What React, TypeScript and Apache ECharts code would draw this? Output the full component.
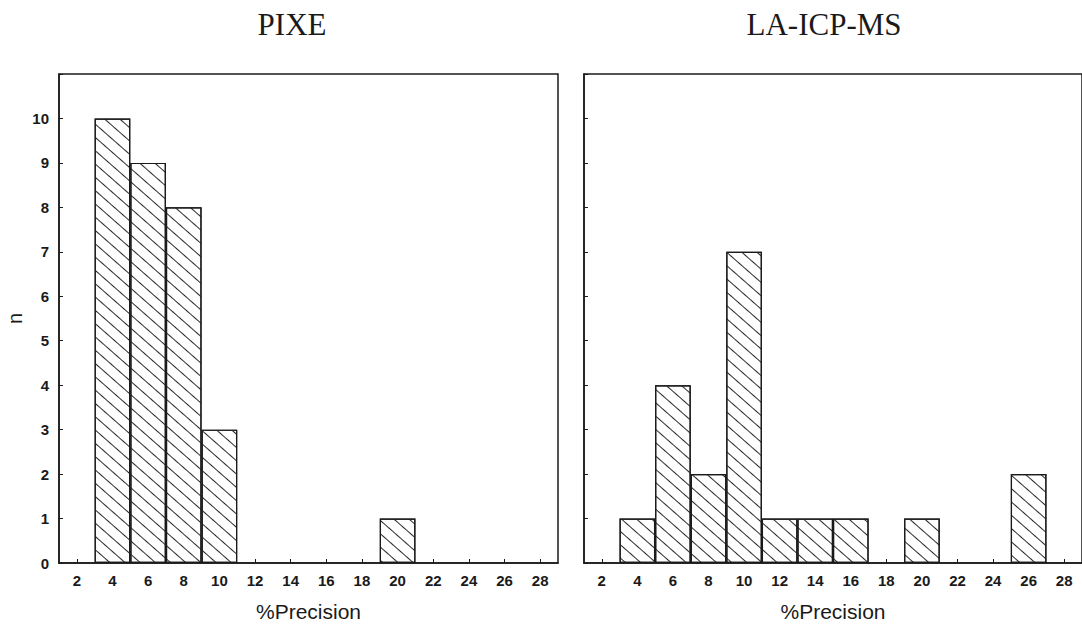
import React, { useEffect, useRef } from "react";
import * as echarts from "echarts";

// ---- data ----
const xTicks = [2, 4, 6, 8, 10, 12, 14, 16, 18, 20, 22, 24, 26, 28];
const pixeBins = [4, 6, 8, 10, 20];
const pixeCounts = [10, 9, 8, 3, 1];
const icpBins = [4, 6, 8, 10, 12, 14, 16, 20, 26];
const icpCounts = [1, 4, 2, 7, 1, 1, 1, 1, 2];
const panelTitles = ["PIXE", "LA-ICP-MS"];
const xName = "%Precision";
const yName = "n";

const X_MIN = 1;
const X_MAX = 29;
const Y_MAX = 11;
const BIN_WIDTH = 2;

const GRID_W = 499;
const GRID_H = 489;
const GRID_TOP = 74;
const GRID_LEFTS = [59, 584];

export default function App() {
  const ref = useRef<HTMLDivElement>(null);
  useEffect(() => {
    if (!ref.current) return;
    const chart = echarts.init(ref.current, null, { renderer: "svg" });
    const barW = (GRID_W / (X_MAX - X_MIN)) * BIN_WIDTH;
    const decal = {
      symbol: "rect",
      symbolSize: 1,
      dashArrayX: [1, 0],
      dashArrayY: [0.9, 8.6],
      rotation: 0.72,
      color: "#2a2a2a",
    };
    const axisFont = "Liberation Sans";
    const ink = "#1a1a1a";
    const mkX = (i: number) => ({
      type: "value",
      gridIndex: i,
      min: X_MIN,
      max: X_MAX,
      name: xName,
      nameLocation: "middle",
      nameGap: 38,
      nameTextStyle: { fontFamily: axisFont, fontSize: 21, color: ink },
      axisLine: { show: true, lineStyle: { color: ink, width: 1.5 } },
      axisTick: { show: true, inside: true, length: 4, customValues: xTicks, lineStyle: { color: ink } },
      axisLabel: { customValues: xTicks, margin: 10, fontFamily: axisFont, fontSize: 15, fontWeight: "bold", color: ink },
      splitLine: { show: false },
    });
    const mkY = (i: number) => ({
      type: "value",
      gridIndex: i,
      min: 0,
      max: Y_MAX,
      interval: 1,
      name: i === 0 ? yName : "",
      nameLocation: "middle",
      nameGap: 34,
      nameTextStyle: { fontFamily: axisFont, fontSize: 20, color: ink },
      axisLine: { show: true, lineStyle: { color: ink, width: 1.5 } },
      axisTick: { show: true, inside: true, length: 4, lineStyle: { color: ink } },
      axisLabel: {
        show: i === 0,
        margin: 10,
        fontFamily: axisFont,
        fontSize: 15,
        fontWeight: "bold",
        color: ink,
        formatter: (v: number) => (v >= Y_MAX ? "" : String(v)),
      },
      splitLine: { show: false },
    });
    const mkSeries = (i: number, bins: number[], counts: number[]) => ({
      type: "bar",
      xAxisIndex: i,
      yAxisIndex: i,
      barWidth: barW,
      data: bins.map((b, k) => [b, counts[k]]),
      itemStyle: { color: "#ffffff", borderColor: ink, borderWidth: 1.2, decal },
      emphasis: { disabled: true },
    });
    chart.setOption({
      animation: false,
      backgroundColor: "#ffffff",
      grid: GRID_LEFTS.map((l) => ({
        left: l,
        top: GRID_TOP,
        width: GRID_W,
        height: GRID_H,
        show: true,
        borderColor: ink,
        borderWidth: 1.5,
        backgroundColor: "transparent",
      })),
      xAxis: [mkX(0), mkX(1)],
      yAxis: [mkY(0), mkY(1)],
      series: [mkSeries(0, pixeBins, pixeCounts), mkSeries(1, icpBins, icpCounts)],
      graphic: [
        {
          type: "text",
          x: 292,
          y: 24,
          style: { text: panelTitles[0], font: "31px 'Liberation Serif'", fill: ink, textAlign: "center", textVerticalAlign: "middle" },
        },
        {
          type: "text",
          x: 824,
          y: 24,
          style: { text: panelTitles[1], font: "31px 'Liberation Serif'", fill: ink, textAlign: "center", textVerticalAlign: "middle" },
        },
      ],
    });
    return () => chart.dispose();
  }, []);
  return (
    <div
      ref={ref}
      style={{ position: "fixed", left: 0, top: 0, width: 1082, height: 629, background: "#fff" }}
    />
  );
}
